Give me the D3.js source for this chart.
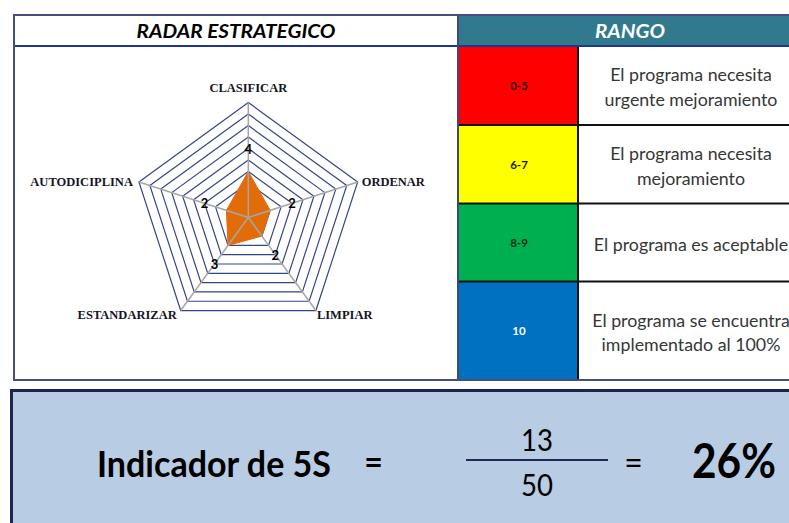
<!DOCTYPE html>
<html>
<head>
<meta charset="utf-8">
<script src="https://cdn.jsdelivr.net/npm/d3@7/dist/d3.min.js"></script>
<style>
  html, body { margin: 0; padding: 0; background: #ffffff; }
  svg { display: block; }
</style>
</head>
<body>
<svg id="chart" width="789" height="523"></svg>
<script>
// ---------- DATA ----------
const categories = ["CLASIFICAR", "ORDENAR", "LIMPIAR", "ESTANDARIZAR", "AUTODICIPLINA"];
const values = [4, 2, 2, 3, 2];
const maxScore = 10;
const ringTicks = [1, 2, 3, 4, 5, 6, 7, 8, 9, 10];

const rangeLabels = ["0-5", "6-7", "8-9", "10"];
const rangeColors = ["#FF0000", "#FFFF00", "#00B050", "#0070C0"];
const rangeLabelColors = ["#3a0000", "#1a1a00", "#0a2a10", "#ffffff"];
const rangeTexts = [
  ["El programa necesita", "urgente mejoramiento"],
  ["El programa necesita", "mejoramiento"],
  ["El programa es aceptable"],
  ["El programa se encuentra", "implementado al 100%"]
];

const titleLeft = "RADAR ESTRATEGICO";
const titleRight = "RANGO";
const indicatorLabel = "Indicador de 5S";

// ---------- DERIVED ----------
const total = d3.sum(values);
const maxTotal = categories.length * maxScore;
const pct = d3.format(".0%")(total / maxTotal);

const svg = d3.select("#chart");

// ---------- TABLE LAYOUT ----------
const T = { left: 14, top: 15, right: 805, bottom: 380, header: 46, split: 458, colorRight: 578 };
const rowEdges = [46, 125, 203.5, 281.5, 380];
const textCenterX = 691;

// header cells
svg.append("rect").attr("x", T.left).attr("y", T.top).attr("width", T.split - T.left).attr("height", T.header - T.top).attr("fill", "#ffffff");
svg.append("rect").attr("x", T.split).attr("y", T.top).attr("width", T.right - T.split).attr("height", T.header - T.top).attr("fill", "#31798C");

// range rows
const rows = svg.append("g");
rangeLabels.forEach((lab, i) => {
  const y0 = rowEdges[i], y1 = rowEdges[i + 1];
  rows.append("rect").attr("x", T.split).attr("y", y0).attr("width", T.colorRight - T.split).attr("height", y1 - y0).attr("fill", rangeColors[i]);
  rows.append("text").attr("x", (T.split + T.colorRight) / 2 + 1).attr("y", (y0 + y1) / 2)
    .attr("text-anchor", "middle").attr("dominant-baseline", "central")
    .attr("font-family", "Lato, 'Open Sans', sans-serif").attr("font-weight", "bold").attr("font-size", 11.5)
    .attr("fill", rangeLabelColors[i]).text(lab);
  const lines = rangeTexts[i];
  const lh = 24.5;
  const cy = (y0 + y1) / 2 + 1;
  lines.forEach((ln, j) => {
    rows.append("text").attr("x", textCenterX).attr("y", cy + (j - (lines.length - 1) / 2) * lh)
      .attr("text-anchor", "middle").attr("dominant-baseline", "central")
      .attr("font-family", "Lato, 'Open Sans', sans-serif").attr("font-size", 17.8)
      .attr("fill", "#363636").text(ln);
  });
});

// black grid of range rows
rowEdges.slice(1, -1).forEach(y => {
  svg.append("line").attr("x1", T.split).attr("x2", T.right).attr("y1", y).attr("y2", y).attr("stroke", "#111").attr("stroke-width", 2);
});
svg.append("line").attr("x1", T.colorRight).attr("x2", T.colorRight).attr("y1", T.header).attr("y2", T.bottom).attr("stroke", "#111").attr("stroke-width", 2);

// header separator
svg.append("line").attr("x1", T.left).attr("x2", T.right).attr("y1", T.header).attr("y2", T.header).attr("stroke", "#1F3590").attr("stroke-width", 2);
// vertical split
svg.append("line").attr("x1", T.split).attr("x2", T.split).attr("y1", T.top).attr("y2", T.bottom).attr("stroke", "#3F4878").attr("stroke-width", 2);
// outer border
svg.append("rect").attr("x", T.left).attr("y", T.top).attr("width", T.right - T.left).attr("height", T.bottom - T.top)
  .attr("fill", "none").attr("stroke", "#454E7E").attr("stroke-width", 2);

// header texts
svg.append("text").attr("x", (T.left + T.split) / 2).attr("y", 31).attr("text-anchor", "middle").attr("dominant-baseline", "central")
  .attr("font-family", "Lato, sans-serif").attr("font-weight", "bold").attr("font-style", "italic").attr("font-size", 18)
  .attr("textLength", 199).attr("lengthAdjust", "spacingAndGlyphs")
  .attr("fill", "#000").text(titleLeft);
svg.append("text").attr("x", 630).attr("y", 31).attr("text-anchor", "middle").attr("dominant-baseline", "central")
  .attr("font-family", "Lato, sans-serif").attr("font-weight", "bold").attr("font-style", "italic").attr("font-size", 18)
  .attr("textLength", 70).attr("lengthAdjust", "spacingAndGlyphs")
  .attr("fill", "#fff").text(titleRight);

// ---------- RADAR ----------
const cx = 248.3, cy = 217.5, R = 115;
const r = d3.scaleLinear().domain([0, maxScore]).range([0, R]);
const angle = d3.scaleLinear().domain([0, categories.length]).range([0, 2 * Math.PI]);
const pt = (i, v) => [cx + r(v) * Math.sin(angle(i)), cy - r(v) * Math.cos(angle(i))];

const radar = svg.append("g");
// rings
radar.selectAll("polygon.ring").data(ringTicks).join("polygon").attr("class", "ring")
  .attr("points", t => categories.map((c, i) => pt(i, t).join(",")).join(" "))
  .attr("fill", "none").attr("stroke", "#34458A").attr("stroke-width", 1.2);

// data area
radar.append("polygon")
  .attr("points", values.map((v, i) => pt(i, v).join(",")).join(" "))
  .attr("fill", "#E36C0A").attr("stroke", "#E36C0A").attr("stroke-width", 1);

// spokes
radar.selectAll("line.spoke").data(categories).join("line").attr("class", "spoke")
  .attr("x1", cx).attr("y1", cy)
  .attr("x2", (c, i) => pt(i, maxScore)[0]).attr("y2", (c, i) => pt(i, maxScore)[1])
  .attr("stroke", "#A6A6A6").attr("stroke-width", 1.5);

// data labels
radar.selectAll("text.val").data(values).join("text").attr("class", "val")
  .attr("x", (v, i) => pt(i, v + 2)[0]).attr("y", (v, i) => pt(i, v + 2)[1])
  .attr("text-anchor", "middle").attr("dominant-baseline", "central")
  .attr("font-family", "Lato, sans-serif").attr("font-weight", "bold").attr("font-size", 13)
  .attr("fill", "#000").text(v => v);

// category labels
radar.selectAll("text.cat").data(categories).join("text").attr("class", "cat")
  .each(function (c, i) {
    const [x, y] = pt(i, maxScore);
    const s = Math.sin(angle(i)), co = Math.cos(angle(i));
    let anchor = "middle", dx = 0, dy = 0;
    if (Math.abs(s) < 0.01) { dy = -15; }
    else if (s > 0) { anchor = "start"; dx = co < 0 ? 1 : 4; dy = co < 0 ? 4 : 0; }
    else { anchor = "end"; dx = co < 0 ? -4 : -6; dy = co < 0 ? 4 : 0; }
    d3.select(this).attr("x", x + dx).attr("y", y + dy).attr("text-anchor", anchor).attr("dominant-baseline", "central");
  })
  .attr("font-family", "'Liberation Serif', serif").attr("font-weight", "bold").attr("font-size", 12.5)
  .attr("fill", "#15151f").text(c => c);

// ---------- INDICATOR BOX ----------
svg.append("rect").attr("x", 11.5).attr("y", 390.5).attr("width", 800).attr("height", 200)
  .attr("fill", "#B8CCE4").attr("stroke", "#1F2350").attr("stroke-width", 3);

const ind = svg.append("g").attr("font-family", "Lato, sans-serif").attr("fill", "#000");
ind.append("text").attr("x", 97).attr("y", 477).attr("font-weight", "bold").attr("font-size", 36)
  .attr("textLength", 234).attr("lengthAdjust", "spacingAndGlyphs").text(indicatorLabel);
ind.append("text").attr("x", 373.5).attr("y", 474).attr("text-anchor", "middle").attr("font-weight", "bold").attr("font-size", 32).text("=");
ind.append("text").attr("x", 537).attr("y", 451).attr("text-anchor", "middle").attr("font-size", 31)
  .attr("textLength", 32).attr("lengthAdjust", "spacingAndGlyphs").text(total);
ind.append("line").attr("x1", 466).attr("x2", 608).attr("y1", 460).attr("y2", 460).attr("stroke", "#1F2A5A").attr("stroke-width", 2);
ind.append("text").attr("x", 537).attr("y", 496).attr("text-anchor", "middle").attr("font-size", 31)
  .attr("textLength", 32).attr("lengthAdjust", "spacingAndGlyphs").text(maxTotal);
ind.append("text").attr("x", 633.5).attr("y", 474).attr("text-anchor", "middle").attr("font-size", 32).text("=");
ind.append("text").attr("x", 692).attr("y", 478).attr("font-weight", "bold").attr("font-size", 48)
  .attr("textLength", 84).attr("lengthAdjust", "spacingAndGlyphs").text(pct);
</script>
</body>
</html>
